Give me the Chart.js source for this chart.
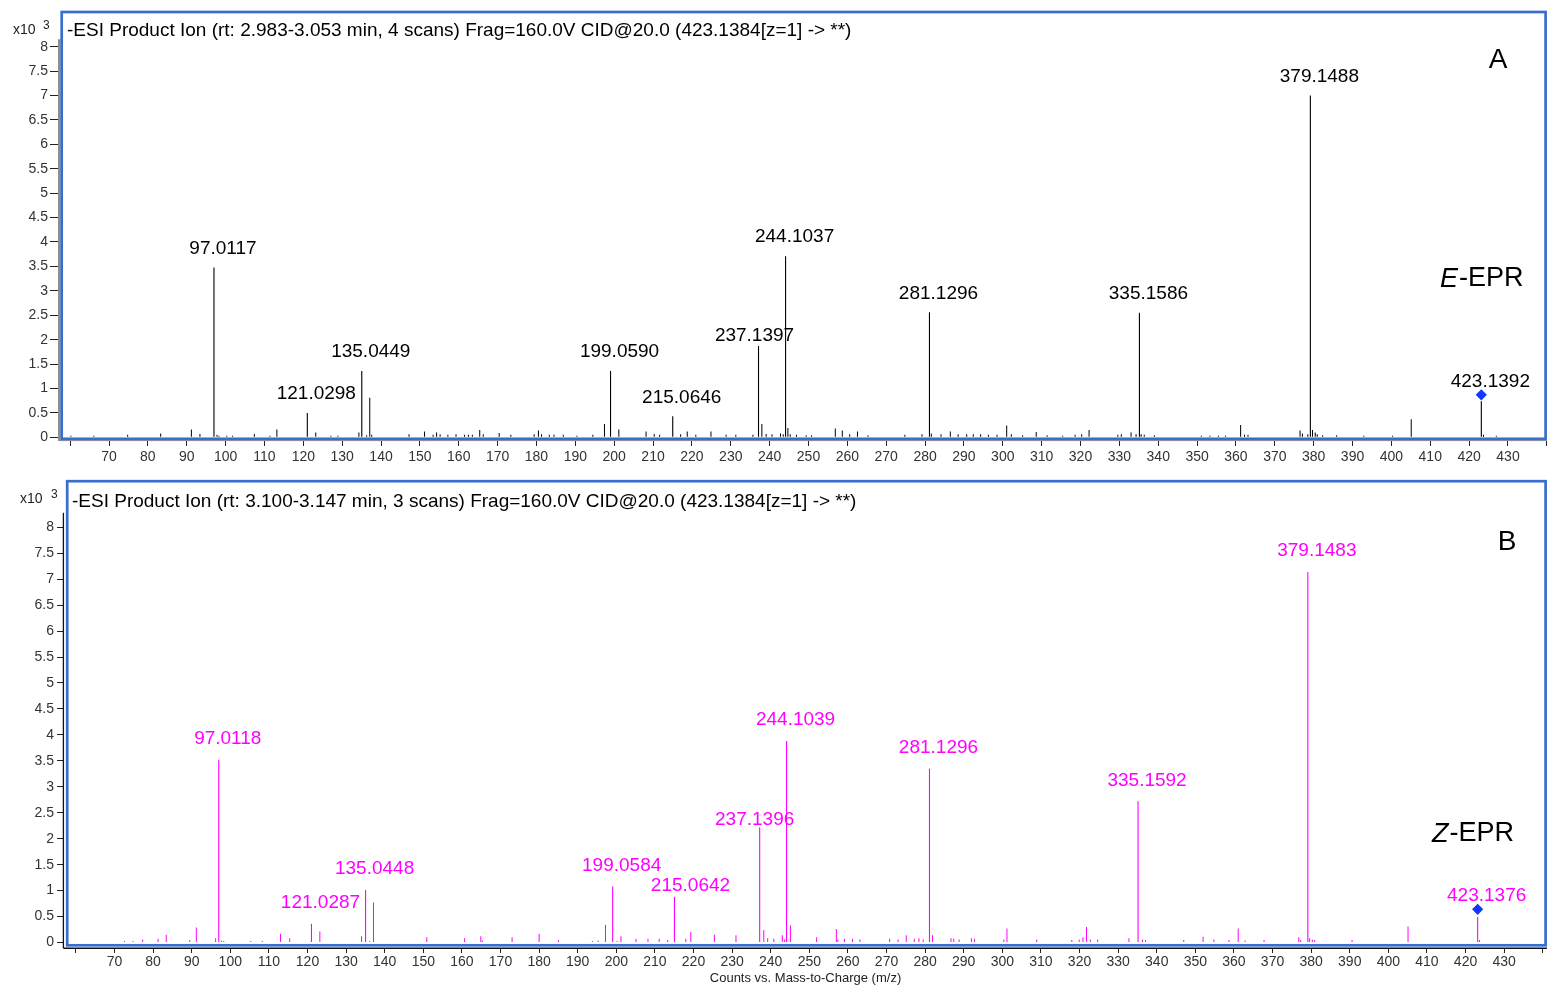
<!DOCTYPE html>
<html>
<head>
<meta charset="utf-8">
<script src="https://cdn.jsdelivr.net/npm/chart.js@4.4.1/dist/chart.umd.min.js"></script>
<style>
  html, body { margin: 0; padding: 0; background: #ffffff; }
  #wrap { position: relative; width: 1547px; height: 987px; overflow: hidden; background: #ffffff; }
  canvas { position: absolute; left: 0; }
  #panelA { top: 0; }
  #panelB { top: 470px; }
</style>
</head>
<body>
<div id="wrap">
  <canvas id="panelA" width="1547" height="470"></canvas>
  <canvas id="panelB" width="1547" height="517"></canvas>
</div>
<script>
// ---- Axis ticks -------------------------------------------------------
const xTickValues = [60, 70, 80, 90, 100, 110, 120, 130, 140, 150, 160, 170, 180, 190, 200,
  210, 220, 230, 240, 250, 260, 270, 280, 290, 300, 310, 320, 330, 340, 350, 360, 370, 380,
  390, 400, 410, 420, 430, 440];
const xTickText = ['', '70', '80', '90', '100', '110', '120', '130', '140', '150', '160', '170',
  '180', '190', '200', '210', '220', '230', '240', '250', '260', '270', '280', '290', '300',
  '310', '320', '330', '340', '350', '360', '370', '380', '390', '400', '410', '420', '430', ''];
const yTickValues = [0, 0.5, 1, 1.5, 2, 2.5, 3, 3.5, 4, 4.5, 5, 5.5, 6, 6.5, 7, 7.5, 8];
const yTickText = ['0', '0.5', '1', '1.5', '2', '2.5', '3', '3.5', '4', '4.5', '5', '5.5',
  '6', '6.5', '7', '7.5', '8'];

// ---- E-EPR product-ion spectrum (counts x10^3) -------------------------
const eLabeledMz = [97.0117, 121.0298, 135.0449, 199.0590, 215.0646, 237.1397, 244.1037,
  281.1296, 335.1586, 379.1488, 423.1392];
const eLabeledCounts = [3.48, 0.50, 1.36, 1.36, 0.43, 1.87, 3.71, 2.56, 2.55, 7.00, 0.74];
const eMinorMz = [60.2, 66.1, 74.8, 83.3, 91.2, 93.4, 97.8, 98.3, 100.3, 101.8, 107.4, 111.4,
  113.2, 123.2, 127.1, 128.9, 134.3, 136.3, 137.1, 137.6, 147.2, 151.2, 153.4, 154.3, 155.2,
  157.2, 159.3, 161.5, 162.5, 163.5, 165.4, 166.3, 170.4, 173.4, 179.4, 180.5, 181.3, 183.3,
  184.5, 186.9, 190.4, 194.5, 197.5, 201.2, 208.2, 210.3, 211.7, 217.1, 218.8, 221.0, 224.9,
  228.8, 231.3, 235.7, 238.0, 239.1, 240.6, 242.8, 243.5, 244.7, 245.3, 246.9, 249.4, 250.8,
  256.9, 258.7, 260.6, 262.6, 265.3, 274.8, 279.2, 281.6, 284.1, 286.5, 288.5, 290.7, 292.4,
  294.3, 296.3, 298.5, 301.0, 302.2, 305.1, 308.6, 311.4, 315.4, 318.6, 320.3, 322.2, 329.6,
  330.5, 333.0, 334.3, 335.6, 336.4, 339.0, 351.1, 353.3, 355.5, 357.3, 361.2, 362.2, 363.1,
  376.5, 377.1, 378.5, 379.7, 380.4, 380.9, 382.3, 385.9, 392.9, 400.3, 405.1, 423.7, 427.0];
const eMinorCounts = [0.03, 0.03, 0.05, 0.08, 0.16, 0.07, 0.05, 0.03, 0.03, 0.03, 0.07, 0.03,
  0.16, 0.10, 0.03, 0.03, 0.10, 0.04, 0.81, 0.05, 0.06, 0.12, 0.05, 0.10, 0.06,
  0.05, 0.06, 0.05, 0.05, 0.05, 0.15, 0.06, 0.09, 0.05, 0.06, 0.14, 0.06, 0.05,
  0.05, 0.05, 0.03, 0.05, 0.27, 0.16, 0.12, 0.07, 0.05, 0.06, 0.12, 0.05, 0.12,
  0.05, 0.05, 0.05, 0.27, 0.07, 0.06, 0.08, 0.06, 0.19, 0.06, 0.05, 0.04, 0.04,
  0.18, 0.14, 0.06, 0.12, 0.04, 0.05, 0.06, 0.08, 0.06, 0.12, 0.06, 0.06, 0.06,
  0.06, 0.05, 0.05, 0.24, 0.06, 0.04, 0.11, 0.04, 0.03, 0.05, 0.06, 0.15, 0.05,
  0.06, 0.10, 0.06, 0.06, 0.05, 0.04, 0.03, 0.03, 0.03, 0.03, 0.25, 0.05, 0.05,
  0.14, 0.08, 0.06, 0.15, 0.10, 0.06, 0.04, 0.04, 0.03, 0.03, 0.37, 0.05, 0.03];
const ePrecursorMz = [423.1392];
const ePrecursorMark = [0.87];

// ---- Z-EPR product-ion spectrum (counts x10^3) -------------------------
const zLabeledMz = [97.0118, 121.0287, 135.0448, 199.0584, 215.0642, 237.1396, 244.1039,
  281.1296, 335.1592, 379.1483, 423.1376];
const zLabeledCounts = [3.52, 0.36, 1.01, 1.08, 0.88, 2.22, 3.88, 3.35, 2.72, 7.14, 0.49];
const zMinorMz = [72.6, 74.8, 77.3, 81.3, 83.4, 89.5, 91.2, 96.2, 97.7, 98.3, 105.3, 108.3,
  113.0, 115.4, 123.2, 134.0, 136.1, 137.1, 150.9, 160.7, 164.9, 165.3, 173.0, 180.0, 185.0,
  193.8, 195.3, 197.2, 200.2, 201.2, 205.1, 208.2, 211.1, 213.3, 218.0, 219.3, 225.4, 231.0,
  238.2, 239.2, 240.8, 243.0, 243.6, 245.1, 251.9, 257.0, 257.4, 259.1, 261.2, 263.1, 270.8,
  273.0, 275.1, 277.2, 278.4, 279.5, 281.9, 286.7, 287.4, 288.8, 292.0, 292.8, 300.4, 301.2,
  308.9, 318.0, 319.9, 320.9, 321.8, 322.8, 324.7, 332.8, 336.3, 337.1, 347.0, 352.0, 354.8,
  358.7, 361.1, 362.9, 367.8, 376.8, 377.3, 379.6, 380.3, 380.9, 390.6, 405.1, 423.6];
const zMinorCounts = [0.03, 0.03, 0.06, 0.07, 0.15, 0.05, 0.29, 0.08, 0.04, 0.03, 0.03, 0.03,
  0.17, 0.08, 0.21, 0.12, 0.03, 0.77, 0.10, 0.08, 0.12, 0.04, 0.10, 0.17, 0.05,
  0.03, 0.04, 0.34, 0.03, 0.12, 0.07, 0.07, 0.07, 0.05, 0.07, 0.20, 0.15, 0.14,
  0.24, 0.08, 0.07, 0.14, 0.06, 0.33, 0.10, 0.26, 0.06, 0.07, 0.07, 0.06, 0.07,
  0.06, 0.14, 0.07, 0.08, 0.06, 0.14, 0.08, 0.07, 0.06, 0.08, 0.07, 0.06, 0.27,
  0.06, 0.05, 0.06, 0.10, 0.30, 0.06, 0.06, 0.08, 0.06, 0.05, 0.05, 0.11, 0.06,
  0.05, 0.27, 0.04, 0.05, 0.10, 0.05, 0.08, 0.06, 0.05, 0.05, 0.31, 0.05];
const zPrecursorMz = [423.1376];
const zPrecursorMark = [0.64];

// ---- Styling ------------------------------------------------------------
const FONT = "'Liberation Sans', Arial, Helvetica, sans-serif";
const FRAME_BLUE = '#3a6ecd';
const DIAMOND_BLUE = '#1238ff';
Chart.defaults.font.family = FONT;
Chart.defaults.color = '#333333';

// Draws the m/z value above each annotated peak.
const peakLabels = {
  id: 'peakLabels',
  afterDatasetsDraw(chart, args, o) {
    const { ctx } = chart;
    const xs = chart.scales.x, ys = chart.scales.y;
    ctx.save();
    ctx.font = o.font;
    ctx.fillStyle = o.color;
    ctx.textAlign = 'center';
    ctx.textBaseline = 'middle';
    o.mz.forEach((m, i) => {
      const n = o.nudge[i] || [o.dx, o.dy];
      ctx.fillText(m.toFixed(4), xs.getPixelForValue(m) + n[0], ys.getPixelForValue(o.counts[i]) + n[1]);
    });
    ctx.restore();
  }
};

// Panel frame, axis lines, exponent, header line and panel captions.
const panelDecor = {
  id: 'panelDecor',
  afterDatasetsDraw(chart, args, o) {
    const { ctx, chartArea: ca } = chart;
    ctx.save();
    ctx.lineCap = 'butt';
    // axis lines
    ctx.strokeStyle = o.axisColor;
    ctx.lineWidth = o.yAxisWidth;
    ctx.beginPath();
    ctx.moveTo(o.yAxisX, o.yAxisTop);
    ctx.lineTo(o.yAxisX, ca.bottom);
    ctx.stroke();
    ctx.lineWidth = o.xAxisWidth;
    ctx.beginPath();
    ctx.moveTo(o.yAxisX, o.xAxisY);
    ctx.lineTo(chart.width, o.xAxisY);
    ctx.stroke();
    // frame
    ctx.strokeStyle = FRAME_BLUE;
    ctx.lineWidth = 2.7;
    const f = o.frame;
    ctx.strokeRect(f[0], f[1], f[2] - f[0], f[3] - f[1]);
    // exponent
    ctx.fillStyle = '#222222';
    ctx.textBaseline = 'alphabetic';
    ctx.textAlign = 'left';
    ctx.font = '14px ' + FONT;
    ctx.fillText('x10', o.expX, o.expY);
    ctx.font = '12px ' + FONT;
    ctx.fillText('3', o.supX, o.expY - 5);
    // header line
    ctx.fillStyle = '#000000';
    ctx.font = '19px ' + FONT;
    ctx.fillText(o.header, o.headerX, o.headerY);
    // panel letter
    ctx.font = '28px ' + FONT;
    ctx.textAlign = 'center';
    ctx.textBaseline = 'middle';
    ctx.fillText(o.letter, o.letterX, o.letterY);
    // isomer caption, first letter italic
    ctx.textAlign = 'left';
    ctx.font = 'italic 27px ' + FONT;
    const w = ctx.measureText(o.isomer).width;
    ctx.fillText(o.isomer, o.capX, o.capY);
    ctx.font = '27px ' + FONT;
    ctx.fillText('-EPR', o.capX + w + 1, o.capY);
    ctx.restore();
  }
};

function zeroPad(s) { s.paddingLeft = 0; s.paddingRight = 0; s.paddingTop = 0; s.paddingBottom = 0; }

function makePanel(id, p) {
  const toPts = (mz, c) => mz.map((m, i) => ({ x: m, y: c[i] }));
  return new Chart(document.getElementById(id), {
    type: 'bar',
    data: {
      datasets: [
        { label: 'annotated', data: toPts(p.mz, p.counts), backgroundColor: p.color,
          barThickness: 1.1, inflateAmount: 0, grouped: false, borderWidth: 0, order: 1 },
        { label: 'minor', data: toPts(p.minorMz, p.minorCounts), backgroundColor: p.color,
          barThickness: 1, inflateAmount: 0, grouped: false, borderWidth: 0, order: 2 },
        { type: 'scatter', label: 'precursor', data: toPts(p.precMz, p.precMark),
          pointStyle: 'rectRot', pointRadius: 5.6, backgroundColor: DIAMOND_BLUE,
          borderWidth: 0, order: 0 }
      ]
    },
    options: {
      responsive: false,
      animation: false,
      events: [],
      layout: { autoPadding: false, padding: { top: p.padTop, right: 0, bottom: 0, left: 0 } },
      plugins: {
        legend: { display: false },
        tooltip: { enabled: false },
        peakLabels: { mz: p.mz, counts: p.counts, color: p.labelColor, font: '19px ' + FONT,
                      dx: 9, dy: p.labelDy, nudge: p.nudge },
        panelDecor: p.decor
      },
      scales: {
        x: {
          type: 'linear', min: p.xMin, max: p.xMax, offset: false,
          afterBuildTicks(s) {
            s.ticks = xTickValues.filter(v => v >= s.min - 1e-9 && v <= s.max + 1e-9).map(v => ({ value: v }));
          },
          afterFit(s) { s.height = p.xAxisHeight; zeroPad(s); },
          grid: { offset: false, drawOnChartArea: false, drawTicks: true, tickLength: p.xTickLen,
                  color: '#222222', lineWidth: 1 },
          border: { display: false },
          ticks: {
            autoSkip: false, maxRotation: 0, minRotation: 0, padding: p.xTickPad,
            font: { size: 14 }, color: '#333333',
            callback(v) { const i = xTickValues.indexOf(v); return i >= 0 ? xTickText[i] : ''; }
          },
          title: p.xTitle
        },
        y: {
          type: 'linear', min: p.yMin, max: p.yMax,
          afterBuildTicks(s) { s.ticks = yTickValues.map(v => ({ value: v })); },
          afterFit(s) { s.width = p.yAxisWidth; zeroPad(s); },
          grid: { drawOnChartArea: false, drawTicks: true, tickLength: p.yTickLen,
                  color: '#222222', lineWidth: 1 },
          border: { display: false },
          ticks: {
            padding: p.yTickPad, font: { size: 14 }, color: '#333333',
            callback(v) { const i = yTickValues.indexOf(v); return i >= 0 ? yTickText[i] : ''; }
          }
        }
      }
    },
    plugins: [peakLabels, panelDecor]
  });
}

makePanel('panelA', {
  mz: eLabeledMz, counts: eLabeledCounts, minorMz: eMinorMz, minorCounts: eMinorCounts,
  precMz: ePrecursorMz, precMark: ePrecursorMark,
  color: '#000000', labelColor: '#000000', labelDy: -19, nudge: { 5: [-4, -10] },
  padTop: 11, xMin: 57.39, xMax: 440.04, yMin: -0.0758, yMax: 8.731,
  xAxisHeight: 29, yAxisWidth: 60, xTickLen: 5, xTickPad: 3, yTickLen: 10, yTickPad: 2,
  xTitle: { display: false },
  decor: {
    axisColor: '#8c8c8c', yAxisWidth: 2.5, yAxisX: 59.3, yAxisTop: 39.3,
    xAxisWidth: 1, xAxisY: 440.6,
    frame: [61.7, 12, 1545.6, 438.8],
    expX: 13, expY: 34, supX: 43,
    header: '-ESI Product Ion (rt: 2.983-3.053 min, 4 scans) Frag=160.0V CID@20.0 (423.1384[z=1] -> **)',
    headerX: 67, headerY: 36,
    letter: 'A', letterX: 1498, letterY: 60,
    isomer: 'E', capX: 1440, capY: 279
  }
});

makePanel('panelB', {
  mz: zLabeledMz, counts: zLabeledCounts, minorMz: zMinorMz, minorCounts: zMinorCounts,
  precMz: zPrecursorMz, precMark: zPrecursorMark,
  color: '#ff00ff', labelColor: '#ff00ff', labelDy: -21,
  nudge: { 4: [16, -11], 5: [-5, -8] },
  padTop: 11, xMin: 56.92, xMax: 441.1, yMin: -0.106, yMax: 8.892,
  xAxisHeight: 39, yAxisWidth: 64, xTickLen: 5, xTickPad: 1, yTickLen: 7, yTickPad: 3,
  xTitle: { display: true, text: 'Counts vs. Mass-to-Charge (m/z)', color: '#222222',
            font: { size: 13 }, padding: { top: 0, bottom: 1 } },
  decor: {
    axisColor: '#111111', yAxisWidth: 1.3, yAxisX: 63.4, yAxisTop: 42.7,
    xAxisWidth: 1.4, xAxisY: 478.2,
    frame: [67.2, 11.2, 1545.6, 475.3],
    expX: 20, expY: 33, supX: 51,
    header: '-ESI Product Ion (rt: 3.100-3.147 min, 3 scans) Frag=160.0V CID@20.0 (423.1384[z=1] -> **)',
    headerX: 72, headerY: 36.7,
    letter: 'B', letterX: 1507, letterY: 72,
    isomer: 'Z', capX: 1432, capY: 364
  }
});
</script>
</body>
</html>
